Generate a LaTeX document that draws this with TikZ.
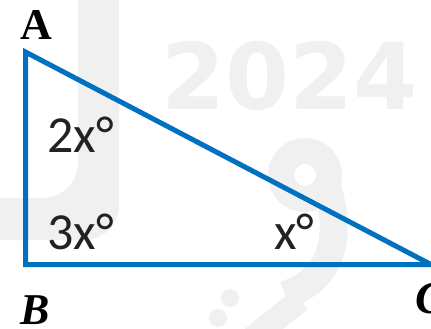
\documentclass[tikz,border=0pt]{standalone}
\usepackage{fontspec}
\setmainfont{Liberation Serif}
\newfontfamily\labelfont{Carlito}
\newfontfamily\markfont{DejaVu Sans}
\definecolor{triblue}{HTML}{0070C0}
\definecolor{wmark}{HTML}{F0F0F0}
\definecolor{angtext}{HTML}{222222}
\tikzset{
  side/.style={draw=triblue, line width=5pt, line join=miter},
  vlabel/.style={inner sep=0pt, anchor=base west, font=\fontsize{44}{44}\selectfont\bfseries},
  anglabel/.style={inner sep=0pt, anchor=base west, text=angtext, font=\labelfont\fontsize{52}{52}\selectfont},
  wm/.style={fill=wmark, draw=none}
}
\begin{document}
\begin{tikzpicture}[x=1pt,y=-1pt]
\useasboundingbox (0,0) rectangle (431,329);
% faint watermark
\fill[wm, rounded corners=35pt] (78,-40) -- (119,-40) -- (119,240) -- (-40,240) -- (-40,198) -- (78,198) -- cycle;
\node[inner sep=0pt, anchor=base west, text=wmark, font=\markfont\bfseries\fontsize{92}{92}\selectfont] (wm2024) at (161,110) {2024};
\draw[wmark, line width=26pt] (305,175) circle[radius=24];
\draw[wmark, line width=28pt] (325,180) .. controls (345,240) and (330,280) .. (285,295);
\draw[wmark, line width=24pt] (250,340) -- (300,300);
\fill[wmark] (230,298) circle[radius=9];
\fill[wmark] (218,318) circle[radius=9];
% triangle
\coordinate (A) at (25.5,52);
\coordinate (B) at (25.5,264.5);
\coordinate (C) at (431,264.5);
\draw[side] (A) -- (B) -- (C) -- cycle;
% vertex labels
\node[vlabel] (la) at (20,40) {A};
\node[vlabel, font=\fontsize{44}{44}\selectfont\bfseries\itshape] (lb) at (20,324) {B};
\node[vlabel, font=\fontsize{46}{46}\selectfont\bfseries\itshape] (lc) at (415,313) {C};
% angle labels
\node[anglabel] (a2) at (47,152) {2x\textdegree};
\node[anglabel] (a3) at (47,249) {3x\textdegree};
\node[anglabel] (a1) at (274,249) {x\textdegree};
\end{tikzpicture}
\end{document}
